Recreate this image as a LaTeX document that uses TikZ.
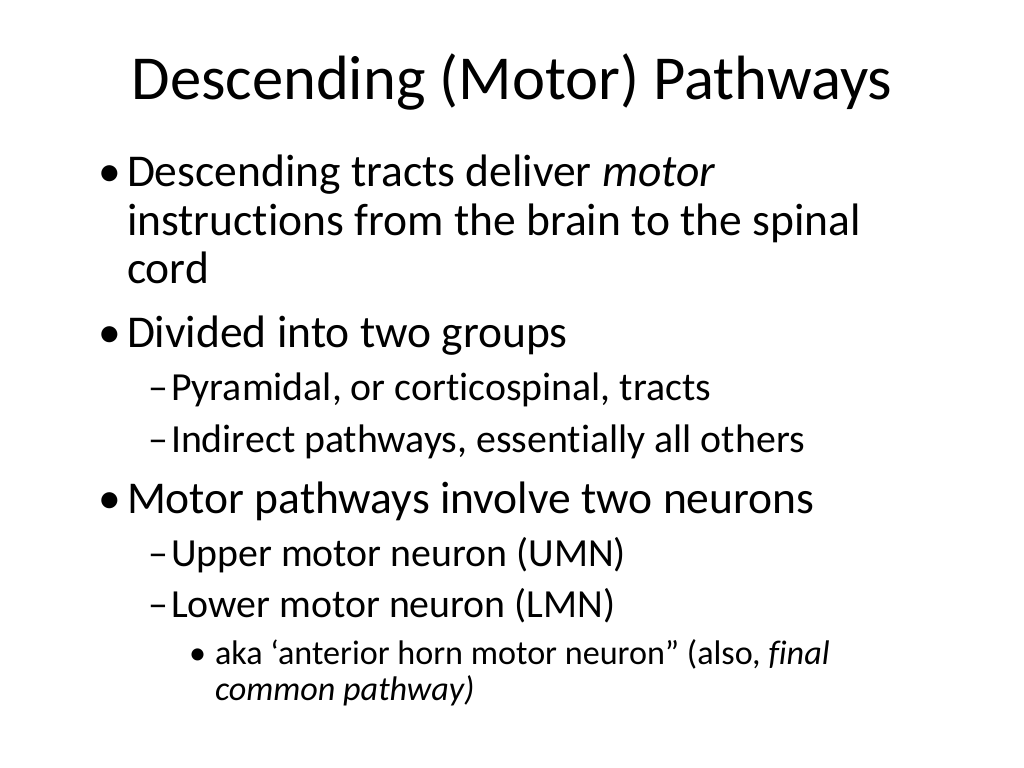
\documentclass[tikz,border=0pt]{standalone}
\usepackage{fontspec}
\setmainfont{Carlito}[Ligatures=NoCommon]
\begin{document}
\begin{tikzpicture}[x=0.703125pt,y=-0.703125pt,
  every node/.style={inner sep=0pt,outer sep=0pt,anchor=base west,text=black},
  ttl/.style={font=\fontsize{44}{53}\selectfont,anchor=base},
  lone/.style={font=\fontsize{32}{38}\selectfont},
  ltwo/.style={font=\fontsize{28}{34}\selectfont},
  lthree/.style={font=\fontsize{24}{29}\selectfont}]
\useasboundingbox[fill=white] (0,0) rectangle (1024,768);
\node[ttl] (title) at (512,100) {Descending (Motor) Pathways};
% level 1
\node[lone] (b1) at (98,187) {•};
\node[lone] (t1a) at (127,187) {Descending tracts deliver \textit{motor}};
\node[lone] (t1b) at (127,236) {instructions from the brain to the spinal};
\node[lone] (t1c) at (127,284) {cord};
\node[lone] (b2) at (98,347) {•};
\node[lone] (t2) at (127,347) {Divided into two groups};
\node[ltwo] (d21) at (148,400) {–};
\node[ltwo] (t21) at (171,400) {Pyramidal, or corticospinal, tracts};
\node[ltwo] (d22) at (148,452) {–};
\node[ltwo] (t22) at (171,452) {Indirect pathways, essentially all others};
\node[lone] (b3) at (98,513) {•};
\node[lone] (t3) at (127,513) {Motor pathways involve two neurons};
\node[ltwo] (d31) at (148,566) {–};
\node[ltwo] (t31) at (171,566) {Upper motor neuron (UMN)};
\node[ltwo] (d32) at (148,617) {–};
\node[ltwo] (t32) at (171,617) {Lower motor neuron (LMN)};
\node[lthree] (b321) at (189,664) {•};
\node[lthree] (t321a) at (215,664) {aka ‘anterior horn motor neuron” (also, \textit{final}};
\node[lthree] (t321b) at (215,700) {\textit{common pathway)}};
\end{tikzpicture}
\end{document}
